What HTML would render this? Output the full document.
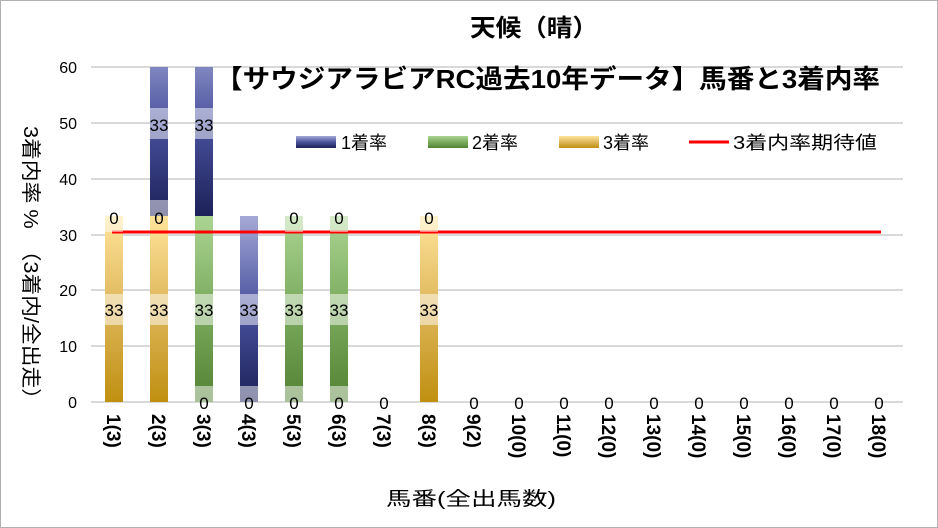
<!DOCTYPE html>
<html><head><meta charset="utf-8"><style>
html,body{margin:0;padding:0;background:#fff;}
svg{display:block;font-family:"Liberation Sans","Noto Sans CJK JP",sans-serif;}
</style></head><body>
<svg width="938" height="528" viewBox="0 0 938 528" xmlns="http://www.w3.org/2000/svg">
<defs>
<linearGradient id="gb" x1="0" y1="0" x2="0" y2="1"><stop offset="0" stop-color="#a4a9d6"/><stop offset="0.5" stop-color="#4a529e"/><stop offset="1" stop-color="#1c2158"/></linearGradient>
<linearGradient id="gg" x1="0" y1="0" x2="0" y2="1"><stop offset="0" stop-color="#abd492"/><stop offset="0.5" stop-color="#7bab5e"/><stop offset="1" stop-color="#538234"/></linearGradient>
<linearGradient id="gy" x1="0" y1="0" x2="0" y2="1"><stop offset="0" stop-color="#ffe49a"/><stop offset="0.5" stop-color="#ddb65a"/><stop offset="1" stop-color="#c09010"/></linearGradient>
<clipPath id="pc"><rect x="90" y="67" width="815" height="340"/></clipPath>
</defs>
<rect x="0.5" y="0.5" width="937" height="527" fill="#fff" stroke="#b0b0b0"/>
<g stroke="#d9d9d9" stroke-width="2">
<line x1="91" x2="903" y1="67" y2="67"/><line x1="91" x2="903" y1="123" y2="123"/><line x1="91" x2="903" y1="179" y2="179"/><line x1="91" x2="903" y1="235" y2="235"/><line x1="91" x2="903" y1="290" y2="290"/><line x1="91" x2="903" y1="346" y2="346"/><line x1="91" x2="903" y1="402" y2="402"/>
</g>
<g font-size="16" fill="#000" text-anchor="end">
<text x="77" y="73">60</text><text x="77" y="129">50</text><text x="77" y="185">40</text><text x="77" y="241">30</text><text x="77" y="296">20</text><text x="77" y="352">10</text><text x="77" y="408">0</text>
</g>
<g clip-path="url(#pc)">
<rect x="105" y="216" width="18" height="186" fill="url(#gy)"/>
<rect x="150" y="216" width="18" height="186" fill="url(#gy)"/>
<rect x="150" y="30" width="18" height="186" fill="url(#gb)"/>
<rect x="195" y="216" width="18" height="186" fill="url(#gg)"/>
<rect x="195" y="30" width="18" height="186" fill="url(#gb)"/>
<rect x="240" y="216" width="18" height="186" fill="url(#gb)"/>
<rect x="285" y="216" width="18" height="186" fill="url(#gg)"/>
<rect x="330" y="216" width="18" height="186" fill="url(#gg)"/>
<rect x="420" y="216" width="18" height="186" fill="url(#gy)"/>
</g>
<line x1="112" x2="881" y1="232" y2="232" stroke="#ff0000" stroke-width="3"/>
<g fill="#fff" fill-opacity="0.5">
<rect x="150" y="108" width="18" height="31"/><rect x="195" y="108" width="18" height="31"/>
<rect x="105" y="294" width="18" height="31"/><rect x="150" y="294" width="18" height="31"/><rect x="195" y="294" width="18" height="31"/><rect x="240" y="294" width="18" height="31"/><rect x="285" y="294" width="18" height="31"/><rect x="330" y="294" width="18" height="31"/><rect x="420" y="294" width="18" height="31"/>
<rect x="105" y="216" width="18" height="16"/><rect x="150" y="200" width="18" height="16"/><rect x="285" y="216" width="18" height="16"/><rect x="330" y="216" width="18" height="16"/><rect x="420" y="216" width="18" height="16"/>
<rect x="195" y="386" width="18" height="16"/><rect x="240" y="386" width="18" height="16"/><rect x="285" y="386" width="18" height="16"/><rect x="330" y="386" width="18" height="16"/>
</g>
<g font-size="17" fill="#000" text-anchor="middle">
<text x="159" y="131">33</text><text x="204" y="131">33</text>
<text x="114" y="316">33</text><text x="159" y="316">33</text><text x="204" y="316">33</text><text x="249" y="316">33</text><text x="294" y="316">33</text><text x="339" y="316">33</text><text x="429" y="316">33</text>
<text x="114" y="224">0</text><text x="159" y="224">0</text><text x="294" y="224">0</text><text x="339" y="224">0</text><text x="429" y="224">0</text>
<text x="204" y="409">0</text><text x="249" y="409">0</text><text x="294" y="409">0</text><text x="339" y="409">0</text><text x="384" y="409">0</text>
<text x="474" y="409">0</text><text x="519" y="409">0</text><text x="564" y="409">0</text><text x="609" y="409">0</text><text x="654" y="409">0</text><text x="699" y="409">0</text><text x="744" y="409">0</text><text x="789" y="409">0</text><text x="834" y="409">0</text><text x="879" y="409">0</text>
</g>
<g font-size="19" font-weight="bold" fill="#000">
<text transform="translate(107,414) rotate(90)">1(3)</text>
<text transform="translate(152,414) rotate(90)">2(3)</text>
<text transform="translate(197,414) rotate(90)">3(3)</text>
<text transform="translate(242,414) rotate(90)">4(3)</text>
<text transform="translate(287,414) rotate(90)">5(3)</text>
<text transform="translate(332,414) rotate(90)">6(3)</text>
<text transform="translate(377,414) rotate(90)">7(3)</text>
<text transform="translate(422,414) rotate(90)">8(3)</text>
<text transform="translate(467,414) rotate(90)">9(2)</text>
<text transform="translate(512,414) rotate(90)">10(0)</text>
<text transform="translate(557,414) rotate(90)">11(0)</text>
<text transform="translate(602,414) rotate(90)">12(0)</text>
<text transform="translate(647,414) rotate(90)">13(0)</text>
<text transform="translate(692,414) rotate(90)">14(0)</text>
<text transform="translate(737,414) rotate(90)">15(0)</text>
<text transform="translate(782,414) rotate(90)">16(0)</text>
<text transform="translate(827,414) rotate(90)">17(0)</text>
<text transform="translate(872,414) rotate(90)">18(0)</text>
</g>
<text x="386" y="505" font-size="19" textLength="170" lengthAdjust="spacingAndGlyphs">馬番(全出馬数)</text>
<text transform="translate(24,126) rotate(90)" font-size="20" textLength="284" lengthAdjust="spacingAndGlyphs">3着内率 %　（3着内/全出走）</text>
<text x="470" y="36" font-size="24" font-weight="bold" textLength="128" lengthAdjust="spacingAndGlyphs">天候（晴）</text>
<text x="215" y="88" font-size="26" font-weight="bold" textLength="665" lengthAdjust="spacingAndGlyphs">【サウジアラビアRC過去10年データ】馬番と3着内率</text>
<g font-size="18">
<rect x="296" y="136" width="40" height="12" fill="url(#gb)"/><text x="341" y="149">1着率</text>
<rect x="428" y="136" width="40" height="12" fill="url(#gg)"/><text x="472" y="149">2着率</text>
<rect x="559" y="136" width="40" height="12" fill="url(#gy)"/><text x="603" y="149">3着率</text>
<line x1="689" x2="729" y1="142" y2="142" stroke="#ff0000" stroke-width="3"/><text x="733" y="149" textLength="144" lengthAdjust="spacingAndGlyphs">3着内率期待値</text>
</g>
</svg>
</body></html>
